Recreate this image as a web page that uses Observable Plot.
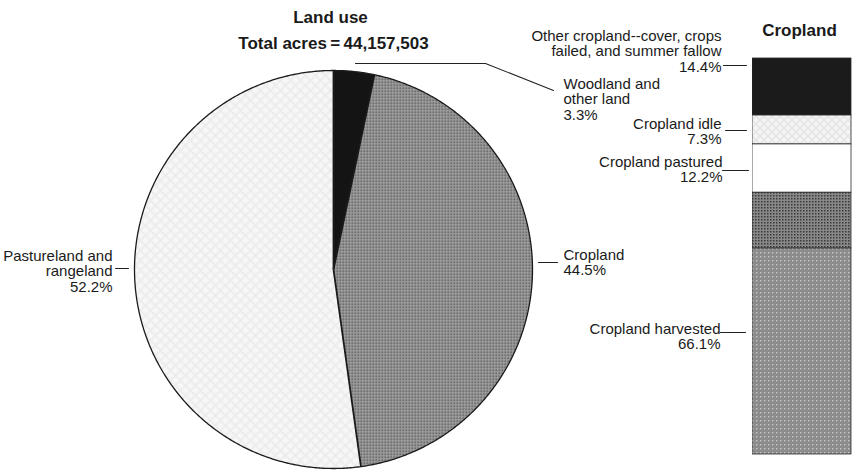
<!DOCTYPE html>
<html>
<head>
<meta charset="utf-8">
<script src="https://cdn.jsdelivr.net/npm/d3@7"></script>
<script src="https://cdn.jsdelivr.net/npm/@observablehq/plot@0.6"></script>
<style>
  html, body { margin: 0; padding: 0; background: #fff; }
  #chart { position: relative; width: 852px; height: 472px; overflow: hidden; font-family: "Liberation Sans", Arial, Helvetica, sans-serif; }
</style>
</head>
<body>
<svg width="0" height="0" style="position:absolute">
  <defs>
    <pattern id="cropDots" patternUnits="userSpaceOnUse" width="3" height="3">
      <rect width="3" height="3" fill="#a2a2a2"/>
      <rect width="1.5" height="1.5" fill="#474747"/>
    </pattern>
    <pattern id="pastureHatch" patternUnits="userSpaceOnUse" width="10" height="10">
      <rect width="10" height="10" fill="#f7f7f7"/>
      <path d="M0,0L10,10M10,0L0,10" stroke="#ebebeb" stroke-width="1.6"/>
    </pattern>
    <pattern id="idleHatch" patternUnits="userSpaceOnUse" width="8" height="8">
      <rect width="8" height="8" fill="#f5f5f5"/>
      <path d="M0,0L8,8M8,0L0,8" stroke="#e4e4e4" stroke-width="1.4"/>
    </pattern>
    <pattern id="barDark" patternUnits="userSpaceOnUse" width="3" height="3">
      <rect width="3" height="3" fill="#888"/>
      <rect width="1.5" height="1.5" fill="#3a3a3a"/>
    </pattern>
    <pattern id="barHarvest" patternUnits="userSpaceOnUse" width="4" height="4">
      <rect width="4" height="4" fill="#8c8c8c"/>
      <rect width="1.4" height="1.4" fill="#c9c9c9"/>
    </pattern>
  </defs>
</svg>
<div id="chart"></div>
<script>
// ---------- data ----------
const landCategories = ["Woodland and other land", "Cropland", "Pastureland and rangeland"];
const landShares = [3.3, 44.5, 52.2];
const totalAcres = 44157503;

const cropCategories = ["Other cropland--cover, crops failed, and summer fallow", "Cropland idle", "Cropland pastured", "Cropland harvested"];
const cropShares = [14.4, 7.3, 12.2, 66.1];
// harvested bar is drawn in two shades (upper darker band, lighter remainder)
const harvestedBands = [14.1, 52.0];

// ---------- styles / layout ----------
const font = "Liberation Sans, Arial, Helvetica, sans-serif";
const W = 852, H = 472;
const cx = 333, cy = 269, R = 199;
const landFills = ["#141414", "url(#cropDots)", "url(#pastureHatch)"];
const barFills = ["#1b1b1b", "url(#idleHatch)", "#ffffff", "url(#barDark)", "url(#barHarvest)"];

// ---------- pie geometry from data ----------
const pie = d3.pie().sort(null).value(d => d.share)(landCategories.map((c, i) => ({category: c, share: landShares[i], fill: landFills[i]})));
const pt = a => ({x: cx + R * Math.sin(a), y: cy - R * Math.cos(a)});
const slicePts = [];
pie.forEach((s, i) => {
  const n = Math.max(2, Math.ceil((s.endAngle - s.startAngle) / (Math.PI / 360)));
  slicePts.push({slice: i, fill: s.data.fill, x: cx, y: cy});
  for (let k = 0; k <= n; k++) {
    const p = pt(s.startAngle + (s.endAngle - s.startAngle) * k / n);
    slicePts.push({slice: i, fill: s.data.fill, ...p});
  }
  slicePts.push({slice: i, fill: s.data.fill, x: cx, y: cy});
});
const circlePts = d3.range(0, 721).map(k => pt(k * Math.PI / 360));
const dividers = pie.map(s => { const p = pt(s.startAngle); return {x1: cx, y1: cy, x2: p.x, y2: p.y}; });

const fmt = d3.format(".1f");
const txt = (lines) => lines.join("\n");

const labelsEnd = [
  {x: 112, y: 249, text: txt(["Pastureland and", "rangeland", fmt(landShares[2]) + "%"])},
  {x: 721, y: 29, text: txt(["Other cropland--cover, crops", "failed, and summer fallow", fmt(cropShares[0]) + "%"])},
  {x: 721, y: 117, text: txt([cropCategories[1], fmt(cropShares[1]) + "%"])},
  {x: 722, y: 155, text: txt([cropCategories[2], fmt(cropShares[2]) + "%"])},
  {x: 720, y: 322, text: txt([cropCategories[3], fmt(cropShares[3]) + "%"])}
];
const labelsStart = [
  {x: 563, y: 248, text: txt([landCategories[1], fmt(landShares[1]) + "%"])},
  {x: 563, y: 77, text: txt(["Woodland and", "other land", fmt(landShares[0]) + "%"])}
];

const leaders = [
  [[115, 268], [128, 268]],
  [[538, 262], [557, 262]],
  [[355, 63], [485, 63], [553, 90]],
  [[723, 65], [746, 65]],
  [[725, 130], [746, 130]],
  [[722, 170], [748, 170]],
  [[720, 332], [745, 332]]
].flatMap((pts, i) => pts.map(([x, y]) => ({id: i, x, y})));

const titles = [
  {x: 330, y: 17, text: "Land use"},
  {x: 333, y: 43, text: "Total acres\u2009=\u2009" + d3.format(",")(totalAcres)},
  {x: 799, y: 30, text: "Cropland"}
];

const pieChart = Plot.plot({
  width: W, height: H,
  margin: 0,
  x: {domain: [0, W], range: [0, W], axis: null},
  y: {domain: [0, H], range: [0, H], axis: null},
  color: {type: "identity"},
  style: {fontFamily: font, background: "transparent"},
  marks: [
    Plot.line(slicePts, {x: "x", y: "y", z: "slice", fill: "fill", stroke: "none", curve: "linear"}),
    Plot.line(circlePts, {x: "x", y: "y", stroke: "#1a1a1a", strokeWidth: 1.3}),
    Plot.link(dividers, {x1: "x1", y1: "y1", x2: "x2", y2: "y2", stroke: "#1a1a1a", strokeWidth: 1.8}),
    Plot.line(leaders, {x: "x", y: "y", z: "id", stroke: "#222", strokeWidth: 1.1}),
    Plot.text(labelsEnd, {x: "x", y: "y", text: "text", textAnchor: "end", lineAnchor: "top", fontSize: 15, lineHeight: 1.05, fill: "#1a1a1a"}),
    Plot.text(labelsStart, {x: "x", y: "y", text: "text", textAnchor: "start", lineAnchor: "top", fontSize: 15, lineHeight: 1.05, fill: "#1a1a1a"}),
    Plot.text(titles, {x: "x", y: "y", text: "text", fontSize: 17, fontWeight: "bold", fill: "#1a1a1a"})
  ]
});
pieChart.style.position = "absolute";
pieChart.style.left = "0px";
pieChart.style.top = "0px";

// ---------- cropland bar ----------
const barSegments = [
  {name: cropCategories[0], share: cropShares[0], fill: barFills[0]},
  {name: cropCategories[1], share: cropShares[1], fill: barFills[1]},
  {name: cropCategories[2], share: cropShares[2], fill: barFills[2]},
  {name: cropCategories[3] + " (upper band)", share: harvestedBands[0], fill: barFills[3]},
  {name: cropCategories[3] + " (lower band)", share: harvestedBands[1], fill: barFills[4]}
];

const barChart = Plot.plot({
  width: 100, height: H,
  marginTop: 58, marginBottom: 18, marginLeft: 0, marginRight: 1,
  x: {domain: [0, 1], axis: null},
  y: {domain: [0, 100], reverse: true, axis: null},
  color: {type: "identity"},
  style: {background: "transparent"},
  marks: [
    Plot.rectY(barSegments, {x1: 0, x2: 1, y: "share", fill: "fill", stroke: "#2a2a2a", strokeWidth: 0.8})
  ]
});
barChart.style.position = "absolute";
barChart.style.left = "752px";
barChart.style.top = "0px";

const chart = document.getElementById("chart");
chart.appendChild(pieChart);
chart.appendChild(barChart);
</script>
</body>
</html>
